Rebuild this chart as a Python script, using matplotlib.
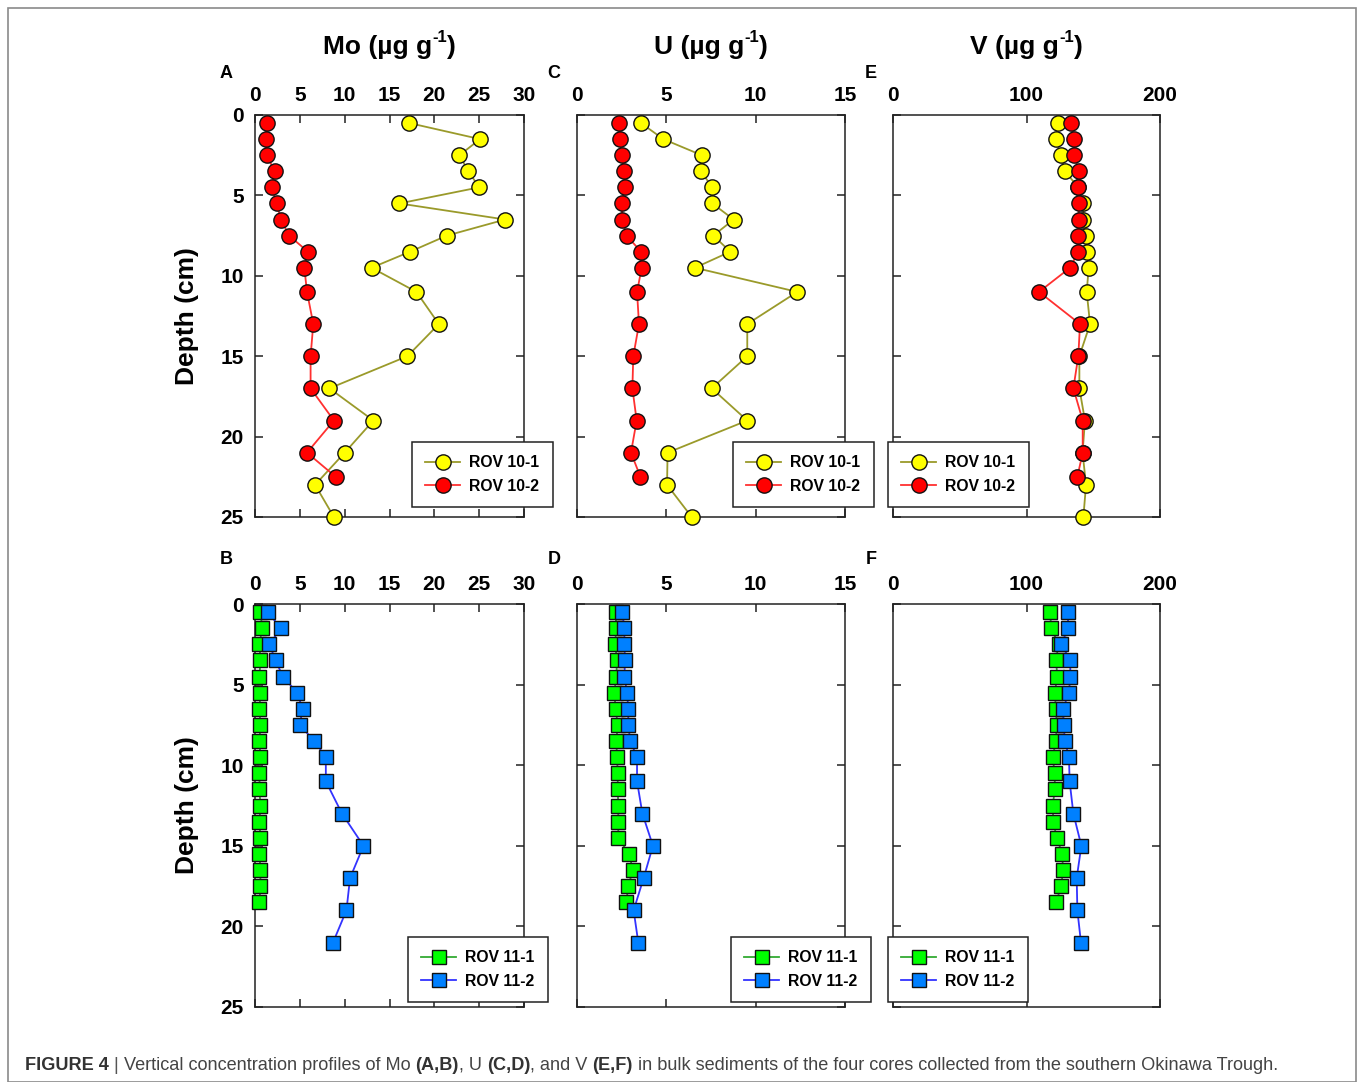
import matplotlib
matplotlib.use("Agg")
import matplotlib.pyplot as plt
from matplotlib import font_manager
from matplotlib.patches import Rectangle

W, H = 1358, 1082

# depths (cm)
depth_10_1 = [0.5, 1.5, 2.5, 3.5, 4.5, 5.5, 6.5, 7.5, 8.5, 9.5, 11, 13, 15, 17, 19, 21, 23, 25]
depth_10_2 = [0.5, 1.5, 2.5, 3.5, 4.5, 5.5, 6.5, 7.5, 8.5, 9.5, 11, 13, 15, 17, 19, 21, 22.5]
depth_11_1 = [0.5, 1.5, 2.5, 3.5, 4.5, 5.5, 6.5, 7.5, 8.5, 9.5, 10.5, 11.5, 12.5, 13.5,
              14.5, 15.5, 16.5, 17.5, 18.5]
depth_11_2 = [0.5, 1.5, 2.5, 3.5, 4.5, 5.5, 6.5, 7.5, 8.5, 9.5, 11, 13, 15, 17, 19, 21]

# Mo (ug/g)
mo_10_1 = [17.2, 25.1, 22.8, 23.8, 25.0, 16.1, 27.9, 21.4, 17.3, 13.0, 18.0, 20.5, 17.0,
           8.3, 13.2, 10.0, 6.7, 8.8]
mo_10_2 = [1.3, 1.2, 1.3, 2.2, 1.9, 2.4, 2.9, 3.8, 5.9, 5.5, 5.8, 6.5, 6.2, 6.2, 8.8, 5.8, 9.0]
mo_11_1 = [0.6, 0.8, 0.5, 0.6, 0.5, 0.6, 0.5, 0.6, 0.5, 0.6, 0.5, 0.5, 0.6, 0.5, 0.6, 0.5,
           0.6, 0.6, 0.5]
mo_11_2 = [1.4, 2.9, 1.6, 2.3, 3.1, 4.7, 5.3, 5.0, 6.6, 7.9, 7.9, 9.7, 12.1, 10.6, 10.2, 8.7]

# U (ug/g)
u_10_1 = [3.58, 4.83, 6.98, 6.94, 7.57, 7.57, 8.77, 7.63, 8.58, 6.6, 12.33, 9.53, 9.53,
          7.54, 9.53, 5.07, 5.04, 6.42]
u_10_2 = [2.35, 2.41, 2.5, 2.65, 2.69, 2.5, 2.54, 2.78, 3.58, 3.62, 3.36, 3.47, 3.15, 3.1,
          3.34, 3.02, 3.55]
u_11_1 = [2.16, 2.2, 2.13, 2.24, 2.2, 2.09, 2.16, 2.28, 2.2, 2.24, 2.28, 2.28, 2.31, 2.31,
          2.31, 2.91, 3.13, 2.87, 2.76]
u_11_2 = [2.54, 2.65, 2.65, 2.69, 2.65, 2.8, 2.87, 2.87, 2.98, 3.36, 3.36, 3.66, 4.25, 3.73,
          3.17, 3.43]

# V (ug/g)
v_10_1 = [123.8, 122.1, 125.6, 128.8, 138.8, 142.6, 142.6, 144.6, 145.6, 146.6, 145.1,
          147.6, 139.6, 139.6, 143.8, 142.0, 144.6, 142.6]
v_10_2 = [133.3, 135.8, 135.8, 139.3, 138.8, 139.1, 139.1, 138.8, 138.8, 132.6, 109.4,
          140.1, 138.8, 135.1, 142.1, 142.1, 138.1]
v_11_1 = [117.8, 118.4, 124.0, 122.1, 123.1, 121.1, 122.1, 122.6, 122.1, 119.6, 121.1,
          121.3, 119.6, 120.1, 122.6, 126.8, 127.3, 126.1, 122.1]
v_11_2 = [131.1, 131.1, 126.1, 132.8, 132.8, 131.8, 127.3, 127.8, 128.8, 131.8, 132.3,
          135.1, 141.1, 137.6, 138.1, 140.8]

xlims = {"Mo": (30, [0, 5, 10, 15, 20, 25, 30]),
         "U": (15, [0, 5, 10, 15]),
         "V": (200, [0, 100, 200])}

plt.rcParams["font.family"] = ["Liberation Sans", "DejaVu Sans"]
fig = plt.figure(figsize=(W / 100, H / 100), dpi=100)
renderer = fig.canvas.get_renderer()


def rect(l, r, t, b):
    return [l / W, 1 - b / H, (r - l) / W, (b - t) / H]


def style_axes(ax, elem, show_y):
    xmax, xt = xlims[elem]
    ax.set_xlim(0, xmax)
    ax.set_ylim(25, 0)
    ax.set_xticks(xt)
    ax.set_yticks([0, 5, 10, 15, 20, 25])
    ax.tick_params(direction="in", top=True, bottom=True, left=True, right=True,
                   labeltop=True, labelbottom=False, labelleft=show_y,
                   length=6, width=1.1, color="#222222", labelsize=15)
    ax.tick_params(axis="x", pad=7)
    ax.tick_params(axis="y", pad=8)
    for lab in ax.get_xticklabels() + ax.get_yticklabels():
        lab.set_fontweight("bold")
    for s in ax.spines.values():
        s.set_linewidth(1.1)
        s.set_color("#222222")


def add_legend(ax, left, top):
    leg = ax.legend(loc="upper left", bbox_to_anchor=(left / W, 1 - top / H),
                    bbox_transform=fig.transFigure, borderaxespad=0,
                    fancybox=False, framealpha=1, edgecolor="#222222",
                    prop={"weight": "bold", "size": 11.3}, handlelength=2.2,
                    handletextpad=0.6, labelspacing=0.55, borderpad=0.85)
    leg.get_frame().set_linewidth(1.1)
    leg.set_zorder(10)


def unit_title(xc, yc, elem):
    # "Mo (µg g" + superscript "-1" + ")" centred on xc
    parts = [(elem + " (\u00b5g g", 19, 0), ("-1", 12, 9), (")", 19, 0)]
    objs = []
    x = 0
    for s, size, dy in parts:
        t = fig.text(x / W, 1 - (yc - dy) / H, s, ha="left", va="center", fontsize=size,
                     fontweight="bold")
        bb = t.get_window_extent(renderer=renderer)
        objs.append((t, x, dy))
        x += bb.width
    shift = xc - x / 2
    for t, x0, dy in objs:
        t.set_x((x0 + shift) / W)


circ = dict(marker="o", markersize=11, markeredgecolor="#111111", markeredgewidth=1.0)
sq = dict(marker="s", markersize=10, markeredgecolor="#111111", markeredgewidth=1.0)

lefts = [(255, 524), (577, 845), (893, 1160)]
top_row = [("Mo", mo_10_1, mo_10_2), ("U", u_10_1, u_10_2), ("V", v_10_1, v_10_2)]
bot_row = [("Mo", mo_11_1, mo_11_2), ("U", u_11_1, u_11_2), ("V", v_11_1, v_11_2)]
leg_top = [(412, 442), (733, 442), (888, 442)]
leg_bot = [(408, 937), (731, 937), (888, 937)]
letters_top = ["A", "C", "E"]
letters_bot = ["B", "D", "F"]
letter_x = [226, 554, 871]

for i, ((l, r), (elem, a, b)) in enumerate(zip(lefts, top_row)):
    ax = fig.add_axes(rect(l, r, 115, 517))
    ax.plot(a, depth_10_1, color="#9a9a2a", lw=1.3, markerfacecolor="#ffff00",
            label="ROV 10-1", zorder=3, **circ)
    ax.plot(b, depth_10_2, color="#ff3030", lw=1.3, markerfacecolor="#ff0000",
            label="ROV 10-2", zorder=4, **circ)
    style_axes(ax, elem, i == 0)
    add_legend(ax, *leg_top[i])
    for c in ax.lines:
        c.set_clip_on(False)
    unit_title((l + r) / 2, 47, elem)
    fig.text(letter_x[i] / W, 1 - 73 / H, letters_top[i], ha="center", va="center",
             fontsize=13, fontweight="bold")

for i, ((l, r), (elem, a, b)) in enumerate(zip(lefts, bot_row)):
    ax = fig.add_axes(rect(l, r, 604, 1007))
    ax.plot(a, depth_11_1, color="#33aa33", lw=1.3, markerfacecolor="#00ff00",
            label="ROV 11-1", zorder=3, **sq)
    ax.plot(b, depth_11_2, color="#3333ff", lw=1.3, markerfacecolor="#0080ff",
            label="ROV 11-2", zorder=4, **sq)
    style_axes(ax, elem, i == 0)
    add_legend(ax, *leg_bot[i])
    for c in ax.lines:
        c.set_clip_on(False)
    fig.text(letter_x[i] / W, 1 - 560 / H, letters_bot[i], ha="center", va="center",
             fontsize=13, fontweight="bold")

for yc in (316, 805):
    fig.text(187 / W, 1 - yc / H, "Depth (cm)", rotation=90, ha="center", va="center",
             fontsize=19, fontweight="bold")

# outer frame
fig.patches.append(Rectangle((8 / W, 0), (1356 - 8) / W, 1 - 8 / H, transform=fig.transFigure,
                             fill=False, edgecolor="#8a8a8a", lw=1.2))

# caption, built piece by piece
try:
    font_manager.findfont("Liberation Sans Narrow", fallback_to_default=False)
    cap_family = ["Liberation Sans Narrow", "DejaVu Sans"]
except ValueError:
    cap_family = ["Liberation Sans", "DejaVu Sans"]

pieces = [("FIGURE 4", "bold", "#333333"), (" | ", "normal", "#555555"),
          ("Vertical concentration profiles of Mo ", "normal", "#444444"),
          ("(A,B)", "bold", "#333333"), (", U ", "normal", "#444444"),
          ("(C,D)", "bold", "#333333"), (", and V ", "normal", "#444444"),
          ("(E,F)", "bold", "#333333"),
          (" in bulk sediments of the four cores collected from the southern Okinawa Trough.",
           "normal", "#444444")]


def draw_caption(size):
    x = 25
    texts = []
    for s, w, c in pieces:
        t = fig.text(x / W, 1 - 1065 / H, s, ha="left", va="center", fontsize=size,
                     fontweight=w, color=c, family=cap_family)
        x = t.get_window_extent(renderer=renderer).x1
        texts.append(t)
    return texts, x


texts, xend = draw_caption(12)
scale = (1280 - 25) / (xend - 25)
for t in texts:
    t.remove()
draw_caption(12 * scale)

fig.savefig("out.png", dpi=100)
